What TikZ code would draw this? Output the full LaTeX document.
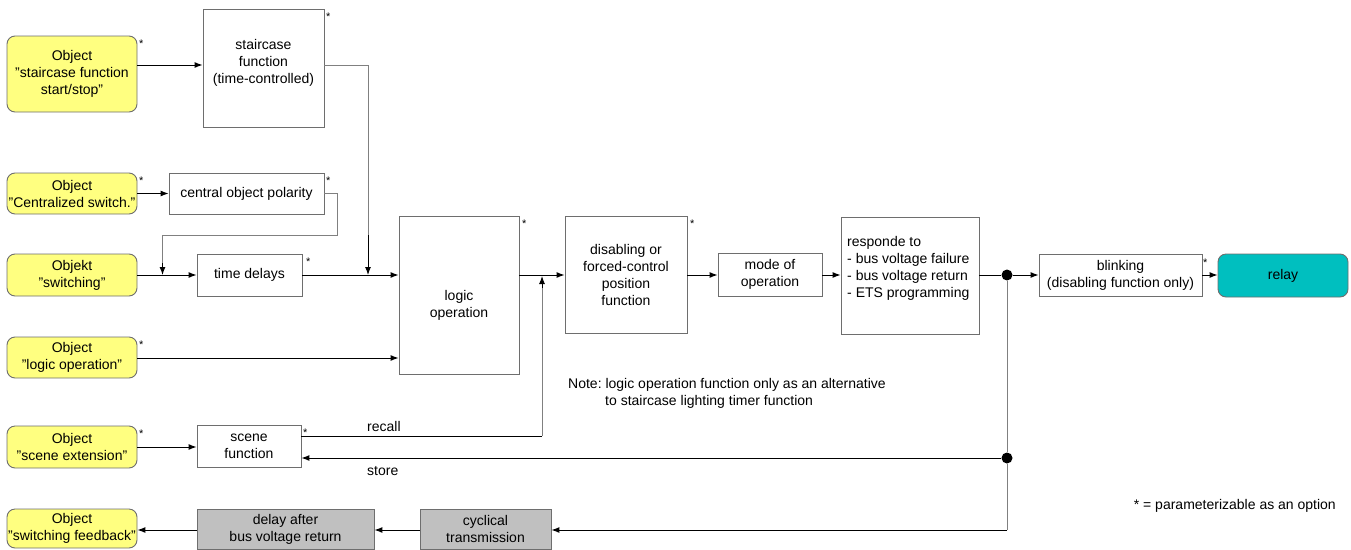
\documentclass[tikz,border=0pt]{standalone}
\usepackage{fontspec}
\setmainfont{Liberation Sans}
\usetikzlibrary{arrows.meta,calc}
\definecolor{objyellow}{RGB}{255,255,128}
\definecolor{relayteal}{RGB}{0,191,191}
\definecolor{boxgray}{RGB}{192,192,192}
\definecolor{edgegray}{RGB}{110,110,110}
\newcommand{\dq}{\symbol{34}}
\frenchspacing
\begin{document}
\begin{tikzpicture}[x=1pt,y=-1pt,
  font=\fontsize{14}{17}\selectfont,
  obj/.style={draw=edgegray, fill=objyellow, rounded corners=8pt, align=center, inner sep=0pt, line width=0.9pt},
  blk/.style={draw=edgegray, fill=white, align=center, inner sep=0pt, line width=0.9pt},
  gblk/.style={blk, fill=boxgray},
  tealblk/.style={blk, fill=relayteal, rounded corners=8pt},
  conn/.style={line width=1pt, -{Latex[length=8pt,width=6pt]}},
  gconn/.style={conn, draw=gray},
  wire/.style={line width=1pt},
  gwire/.style={line width=1pt, draw=gray},
  star/.style={font=\fontsize{11}{11}\selectfont, inner sep=0pt},
  jn/.style={circle, fill=black, inner sep=0pt, minimum size=11pt},
  txt/.style={align=center, inner sep=0pt}
]
\useasboundingbox (0,0) rectangle (1351,549);

% object boxes
\node[obj, minimum width=130pt, minimum height=76pt] (o1) at (72,74) {Object\\\dq staircase function\\start/stop\dq};
\node[obj, minimum width=130pt, minimum height=41pt] (o2) at (72,193.5) {Object\\\dq Centralized switch.\dq};
\node[obj, minimum width=130pt, minimum height=42pt] (o3) at (72,275) {Objekt\\\dq switching\dq};
\node[obj, minimum width=130pt, minimum height=41pt] (o4) at (72,357.5) {Object\\\dq logic operation\dq};
\node[obj, minimum width=130pt, minimum height=42pt] (o5) at (72,447) {Object\\\dq scene extension\dq};
\node[obj, minimum width=130pt, minimum height=39pt] (o6) at (72,528.5) {Object\\\dq switching feedback\dq};

% function blocks
\node[blk, minimum width=121pt, minimum height=118pt] (sc) at (263.5,68) {};
\node[txt] (sct) at (263.5,63) {staircase\\function\\(time-controlled)};
\node[blk, minimum width=155pt, minimum height=41pt] (pol) at (246.5,193.5) {central object polarity};
\node[blk, minimum width=105pt, minimum height=42pt] (td) at (249.5,275) {time delays};
\node[blk, minimum width=120pt, minimum height=158pt] (lo) at (459,295) {};
\node[txt] (lot) at (459,305) {logic\\operation};
\node[blk, minimum width=122pt, minimum height=117pt] (dis) at (626,274.5) {disabling or\\forced-control\\position\\function};
\node[blk, minimum width=104pt, minimum height=43pt] (mode) at (770,274.5) {mode of\\operation};
\node[blk, minimum width=138pt, minimum height=117pt] (resp) at (910,275.5) {};
\node[txt, align=left, anchor=west] (respt) at (847,268.5) {responde to\\- bus voltage failure\\- bus voltage return\\- ETS programming};
\node[blk, minimum width=163pt, minimum height=42pt] (blink) at (1120.5,275) {blinking\\(disabling function only)};
\node[tealblk, minimum width=130pt, minimum height=43pt] (relay) at (1283,275.5) {relay};
\node[blk, minimum width=104pt, minimum height=42pt] (scene) at (249,446) {scene\\function};
\node[gblk, minimum width=177pt, minimum height=40pt] (delay) at (285.5,529) {delay after\\bus voltage return};
\node[gblk, minimum width=131pt, minimum height=40pt] (cyc) at (485.5,529) {cyclical\\transmission};

% stars
\node[star, anchor=west] (s1) at (139,44) {*};
\node[star, anchor=west] (s2) at (326,17) {*};
\node[star, anchor=west] (s3) at (139,181) {*};
\node[star, anchor=west] (s4) at (326,181) {*};
\node[star, anchor=west] (s5) at (306,262) {*};
\node[star, anchor=west] (s6) at (139,345) {*};
\node[star, anchor=west] (s7) at (522,224) {*};
\node[star, anchor=west] (s8) at (690,224) {*};
\node[star, anchor=west] (s9) at (1203,263) {*};
\node[star, anchor=west] (s10) at (139,434) {*};
\node[star, anchor=west] (s11) at (303,433) {*};

% junctions and helper coordinates
\node[jn] (j1) at (1007,275) {};
\node[jn] (j2) at (1007,458) {};
\coordinate (scOut) at (324,65);
\coordinate (scDown) at (368,275);
\coordinate (polA) at (337,235);
\coordinate (polB) at (162.5,275);
\coordinate (recA) at (542,436);
\coordinate (recB) at (542,276);
\coordinate (jb) at (1007,530);

% connectors
\draw[conn] (o1.east |- scOut) -- (sc.west |- scOut);
\draw[gwire] (scOut) -| ($(scDown)+(0,-40)$);
\draw[conn] ($(scDown)+(0,-40)$) -- (scDown);
\draw[conn] (o2.east) -- (pol.west);
\draw[gwire] (pol.east) -| (polA) -| ($(polB)+(0,-12)$);
\draw[conn] ($(polB)+(0,-12)$) -- (polB);
\draw[conn] (o3.east) -- (td.west);
\draw[conn] (td.east) -- (lo.west |- td.east);
\draw[conn] (o4.east |- 0,358) -- (lo.west |- 0,358);
\draw[conn] (lo.east |- 0,275) -- (dis.west |- 0,275);
\draw[conn] (dis.east |- 0,275) -- (mode.west |- 0,275);
\draw[conn] (mode.east |- 0,275) -- (resp.west |- 0,275);
\draw[wire] (resp.east |- j1) -- (j1);
\draw[conn] (j1) -- (blink.west |- j1);
\draw[conn] (blink.east |- 0,275) -- (relay.west |- 0,275);
\draw[conn] (o5.east |- 0,447) -- (scene.west |- 0,447);
\draw[wire] (scene.east |- recA) -- (recA);
\draw[gwire] (recA) -- ($(recB)+(0,12)$);
\draw[conn] ($(recB)+(0,12)$) -- (recB);
\draw[gwire] (j1) -- (j2) -- (jb);
\draw[conn] (j2) -- (scene.east |- j2);
\draw[conn] (jb) -- (cyc.east |- jb);
\draw[conn] (cyc.west |- jb) -- (delay.east |- jb);
\draw[conn] (delay.west |- jb) -- (o6.east |- jb);

% labels
\node[txt, anchor=west] (lrecall) at (367,426) {recall};
\node[txt, anchor=west] (lstore) at (367,471) {store};
\node[txt, anchor=west, align=left] (note) at (568,393.5) {Note: logic operation function only as an alternative\\\hspace*{37pt}to staircase lighting timer function};
\node[txt, anchor=east] (foot) at (1336,506) {* = parameterizable as an option};
\end{tikzpicture}
\end{document}
